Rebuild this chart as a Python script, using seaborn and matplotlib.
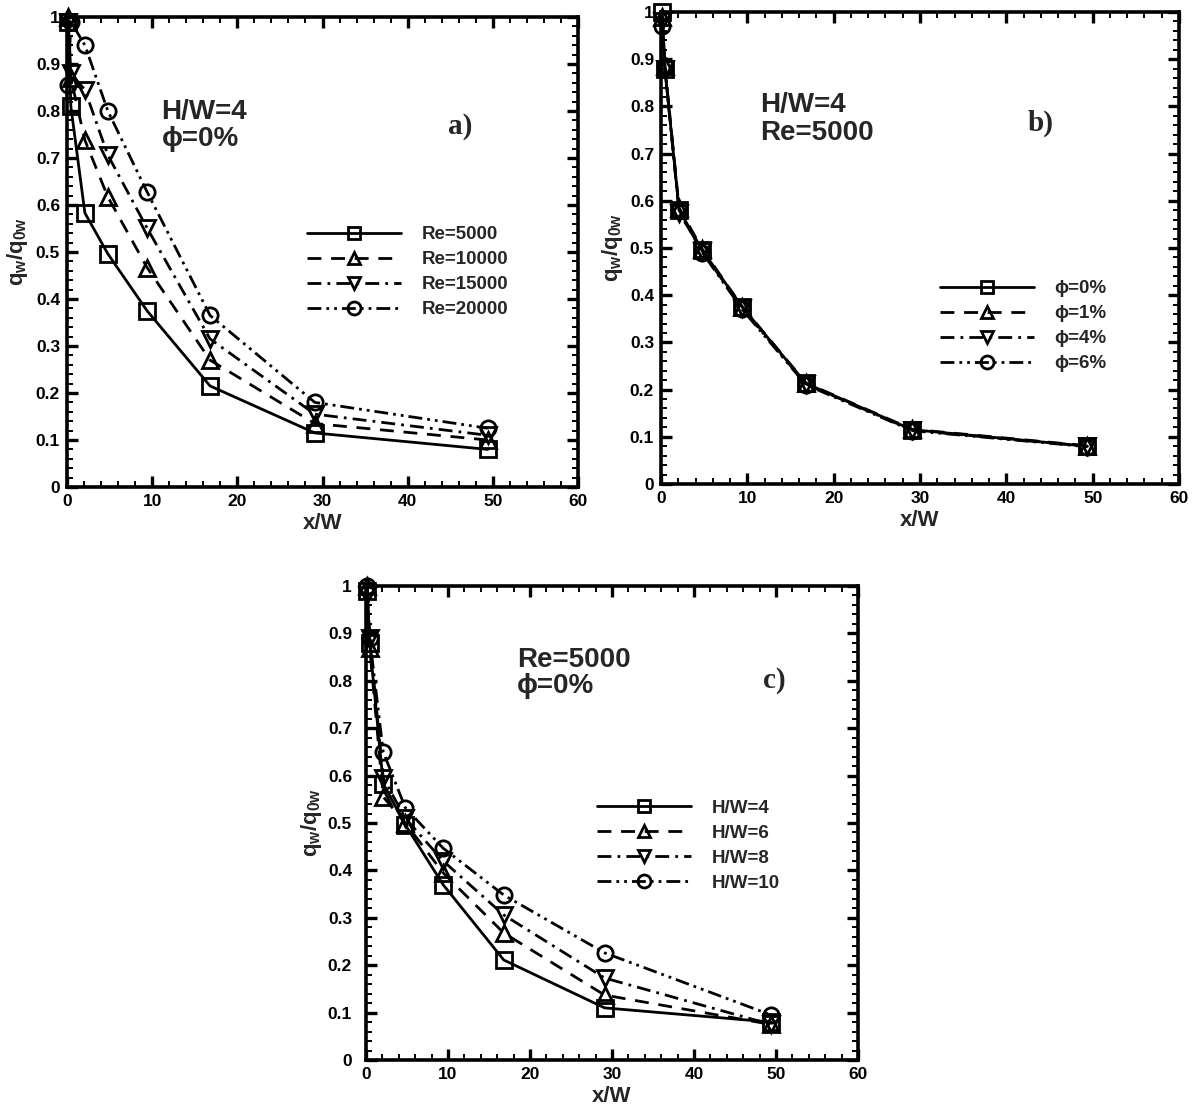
import numpy as np
import pandas as pd
import matplotlib
matplotlib.use("Agg")
import matplotlib.pyplot as plt
import seaborn as sns
from matplotlib.ticker import MultipleLocator, FuncFormatter

# x/W stations along the wall (same stations in every panel)
x_w = [0.15, 0.45, 2.1, 4.8, 9.4, 16.8, 29.1, 49.4]

# a) H/W=4, phi=0%, Reynolds number effect
re_labels = ["Re=5000", "Re=10000", "Re=15000", "Re=20000"]
q_re5000 = [0.99, 0.81, 0.583, 0.496, 0.375, 0.215, 0.115, 0.080]
q_re10000 = [1.00, 0.87, 0.738, 0.617, 0.467, 0.270, 0.135, 0.100]
q_re15000 = [0.99, 0.88, 0.845, 0.706, 0.551, 0.315, 0.155, 0.110]
q_re20000 = [0.855, 0.99, 0.940, 0.800, 0.628, 0.365, 0.180, 0.125]

# b) H/W=4, Re=5000, nanoparticle volume fraction
phi_labels = ["\u03d5=0%", "\u03d5=1%", "\u03d5=4%", "\u03d5=6%"]
q_phi0 = [1.00, 0.880, 0.580, 0.495, 0.375, 0.213, 0.115, 0.080]
q_phi1 = [0.99, 0.885, 0.585, 0.497, 0.376, 0.214, 0.116, 0.081]
q_phi4 = [0.98, 0.880, 0.575, 0.493, 0.372, 0.212, 0.114, 0.080]
q_phi6 = [0.97, 0.885, 0.580, 0.490, 0.370, 0.210, 0.113, 0.079]

# c) Re=5000, phi=0%, jet-to-wall distance
hw_labels = ["H/W=4", "H/W=6", "H/W=8", "H/W=10"]
q_hw4 = [0.99, 0.880, 0.583, 0.496, 0.370, 0.211, 0.110, 0.080]
q_hw6 = [1.00, 0.870, 0.555, 0.500, 0.395, 0.268, 0.137, 0.075]
q_hw8 = [0.98, 0.890, 0.595, 0.510, 0.420, 0.306, 0.173, 0.075]
q_hw10 = [1.00, 0.890, 0.650, 0.532, 0.447, 0.348, 0.226, 0.095]

sns.set_style("ticks")
plt.rcParams["font.family"] = ["Liberation Sans", "DejaVu Sans"]
plt.rcParams["font.weight"] = "bold"
plt.rcParams["mathtext.fontset"] = "custom"
plt.rcParams["mathtext.rm"] = "Liberation Sans:bold"
plt.rcParams["mathtext.it"] = "Liberation Sans:bold"
plt.rcParams["mathtext.bf"] = "Liberation Sans:bold"

markers = ["s", "^", "v", "o"]
dashes = ["", (5, 3.5), (5, 2.2, 1, 2.2), (5, 1.8, 1, 1.8, 1, 1.8)]


def long_df(labels, series):
    rows = []
    for lab, q in zip(labels, series):
        for xv, qv in zip(x_w, q):
            rows.append({"x": xv, "q": qv, "case": lab})
    return pd.DataFrame(rows)


def draw_panel(ax, labels, series, leg_xy, notes, letter, letter_xy, ypad, ylab_x):
    df = long_df(labels, series)
    sns.lineplot(data=df, x="x", y="q", hue="case", style="case",
                 hue_order=labels, style_order=labels,
                 palette=["black"] * 4,
                 markers=dict(zip(labels, markers)),
                 dashes=dict(zip(labels, dashes)),
                 errorbar=None, legend=False, ax=ax,
                 lw=2.0, markersize=11, mfc="none", mec="black", mew=2.0,
                 clip_on=False, zorder=3)
    ax.set_xlim(0, 60)
    ax.set_ylim(0, 1)
    ax.xaxis.set_major_locator(MultipleLocator(10))
    ax.xaxis.set_minor_locator(MultipleLocator(2))
    ax.yaxis.set_major_locator(MultipleLocator(0.1))
    ax.yaxis.set_minor_locator(MultipleLocator(0.02))
    ax.yaxis.set_major_formatter(FuncFormatter(lambda v, p: f"{v:g}"))
    ax.xaxis.set_major_formatter(FuncFormatter(lambda v, p: f"{v:g}"))
    ax.tick_params(which="both", direction="in", top=True, right=True, colors="black")
    ax.tick_params(which="major", length=8, width=2.4, labelsize=12.5)
    ax.tick_params(which="minor", length=4.5, width=1.4)
    ax.tick_params(axis="y", which="major", pad=ypad)
    ax.tick_params(axis="x", which="major", pad=5)
    for sp in ax.spines.values():
        sp.set_linewidth(2.6)
        sp.set_color("black")
    ax.set_xlabel("x/W", fontsize=16, fontweight="bold")
    ax.set_ylabel(r"$q_w/q_{0w}$", fontsize=16)
    ax.xaxis.set_label_coords(0.5, -0.055)
    ax.yaxis.set_label_coords(ylab_x, 0.5)

    handles = ax.get_lines()[:4]
    ax.legend(handles=handles, labels=labels, loc="upper left",
              bbox_to_anchor=leg_xy, frameon=False, handlelength=5.0,
              handletextpad=1.1, labelspacing=0.42, borderpad=0, borderaxespad=0,
              markerscale=0.85, prop={"size": 13.5, "weight": "bold"})

    for (tx, ty, s) in notes:
        ax.text(tx, ty, s, transform=ax.transAxes, ha="left", va="center",
                fontsize=20, fontweight="bold")
    ax.text(letter_xy[0], letter_xy[1], letter, transform=ax.transAxes,
            ha="center", va="center", fontsize=21, fontweight="bold",
            family="Liberation Serif")


fig = plt.figure(figsize=(12, 11.2), dpi=100)
ax_a = fig.add_axes([67 / 1200, 1 - 487 / 1120, 511 / 1200, 470 / 1120])
ax_b = fig.add_axes([661 / 1200, 1 - 484 / 1120, 518 / 1200, 472 / 1120])
ax_c = fig.add_axes([366 / 1200, 1 - 1060 / 1120, 492 / 1200, 474 / 1120])

draw_panel(ax_a, re_labels, [q_re5000, q_re10000, q_re15000, q_re20000],
           (0.47, 0.555),
           [(0.185, 0.798, "H/W=4"), (0.185, 0.740, "\u03d5=0%")],
           "a)", (0.769, 0.766), 5, -0.072)
draw_panel(ax_b, phi_labels, [q_phi0, q_phi1, q_phi4, q_phi6],
           (0.539, 0.432),
           [(0.191, 0.803, "H/W=4"), (0.191, 0.744, "Re=5000")],
           "b)", (0.732, 0.765), 5, -0.070)
draw_panel(ax_c, hw_labels, [q_hw4, q_hw6, q_hw8, q_hw10],
           (0.47, 0.549),
           [(0.307, 0.844, "Re=5000"), (0.307, 0.789, "\u03d5=0%")],
           "c)", (0.83, 0.80), 10, -0.085)

fig.savefig("out.png", dpi=100)
